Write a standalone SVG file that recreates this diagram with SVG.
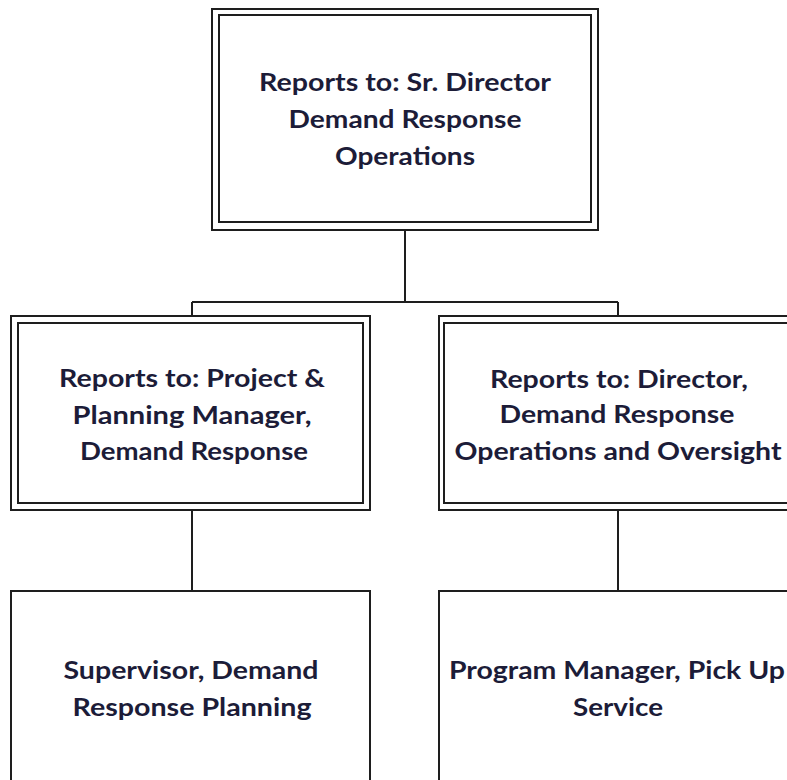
<svg xmlns="http://www.w3.org/2000/svg" width="787" height="780" viewBox="0 0 787 780">
<style>
.b{fill:none;stroke:#1e1e1e;stroke-width:2}
.c{fill:none;stroke:#1e1e1e;stroke-width:2}
text{font-family:"Lato","Open Sans",sans-serif;font-weight:bold;font-size:25px;fill:#1c1c38;text-anchor:middle}
</style>
<rect width="787" height="780" fill="#fff"/>
<g id="connectors">
<path class="c" d="M405 230V302M192 302H618M192 302V316M618 302V316"/>
<path class="c" d="M192 510V591"/>
<path class="c" d="M618 510V591"/>
</g>
<g id="top">
<rect class="b" x="212" y="9" width="386" height="221"/>
<rect class="b" x="219" y="15" width="372" height="207"/>
<text x="405" y="91" textLength="292" lengthAdjust="spacingAndGlyphs">Reports to: Sr. Director</text>
<text x="405" y="128" textLength="233" lengthAdjust="spacingAndGlyphs">Demand Response</text>
<text x="405" y="165" textLength="140" lengthAdjust="spacingAndGlyphs">Operations</text>
</g>
<g id="mid-left">
<rect class="b" x="11" y="316" width="359" height="194"/>
<rect class="b" x="18" y="323" width="345" height="180"/>
<text x="192" y="387" textLength="266" lengthAdjust="spacingAndGlyphs">Reports to: Project &amp;</text>
<text x="192" y="424" textLength="239" lengthAdjust="spacingAndGlyphs">Planning Manager,</text>
<text x="194" y="460" textLength="228" lengthAdjust="spacingAndGlyphs">Demand Response</text>
</g>
<g id="mid-right">
<rect class="b" x="439" y="316" width="359" height="194"/>
<rect class="b" x="444" y="323" width="349" height="180"/>
<text x="619" y="388" textLength="258" lengthAdjust="spacingAndGlyphs">Reports to: Director,</text>
<text x="617" y="423" textLength="235" lengthAdjust="spacingAndGlyphs">Demand Response</text>
<text x="618" y="460" textLength="327" lengthAdjust="spacingAndGlyphs">Operations and Oversight</text>
</g>
<g id="bottom-left">
<rect class="b" x="11" y="591" width="359" height="210"/>
<text x="191" y="679" textLength="255" lengthAdjust="spacingAndGlyphs">Supervisor, Demand</text>
<text x="192" y="716" textLength="239" lengthAdjust="spacingAndGlyphs">Response Planning</text>
</g>
<g id="bottom-right">
<rect class="b" x="439" y="591" width="359" height="210"/>
<text x="617" y="679" textLength="336" lengthAdjust="spacingAndGlyphs">Program Manager, Pick Up</text>
<text x="618" y="716" textLength="90" lengthAdjust="spacingAndGlyphs">Service</text>
</g>
</svg>
